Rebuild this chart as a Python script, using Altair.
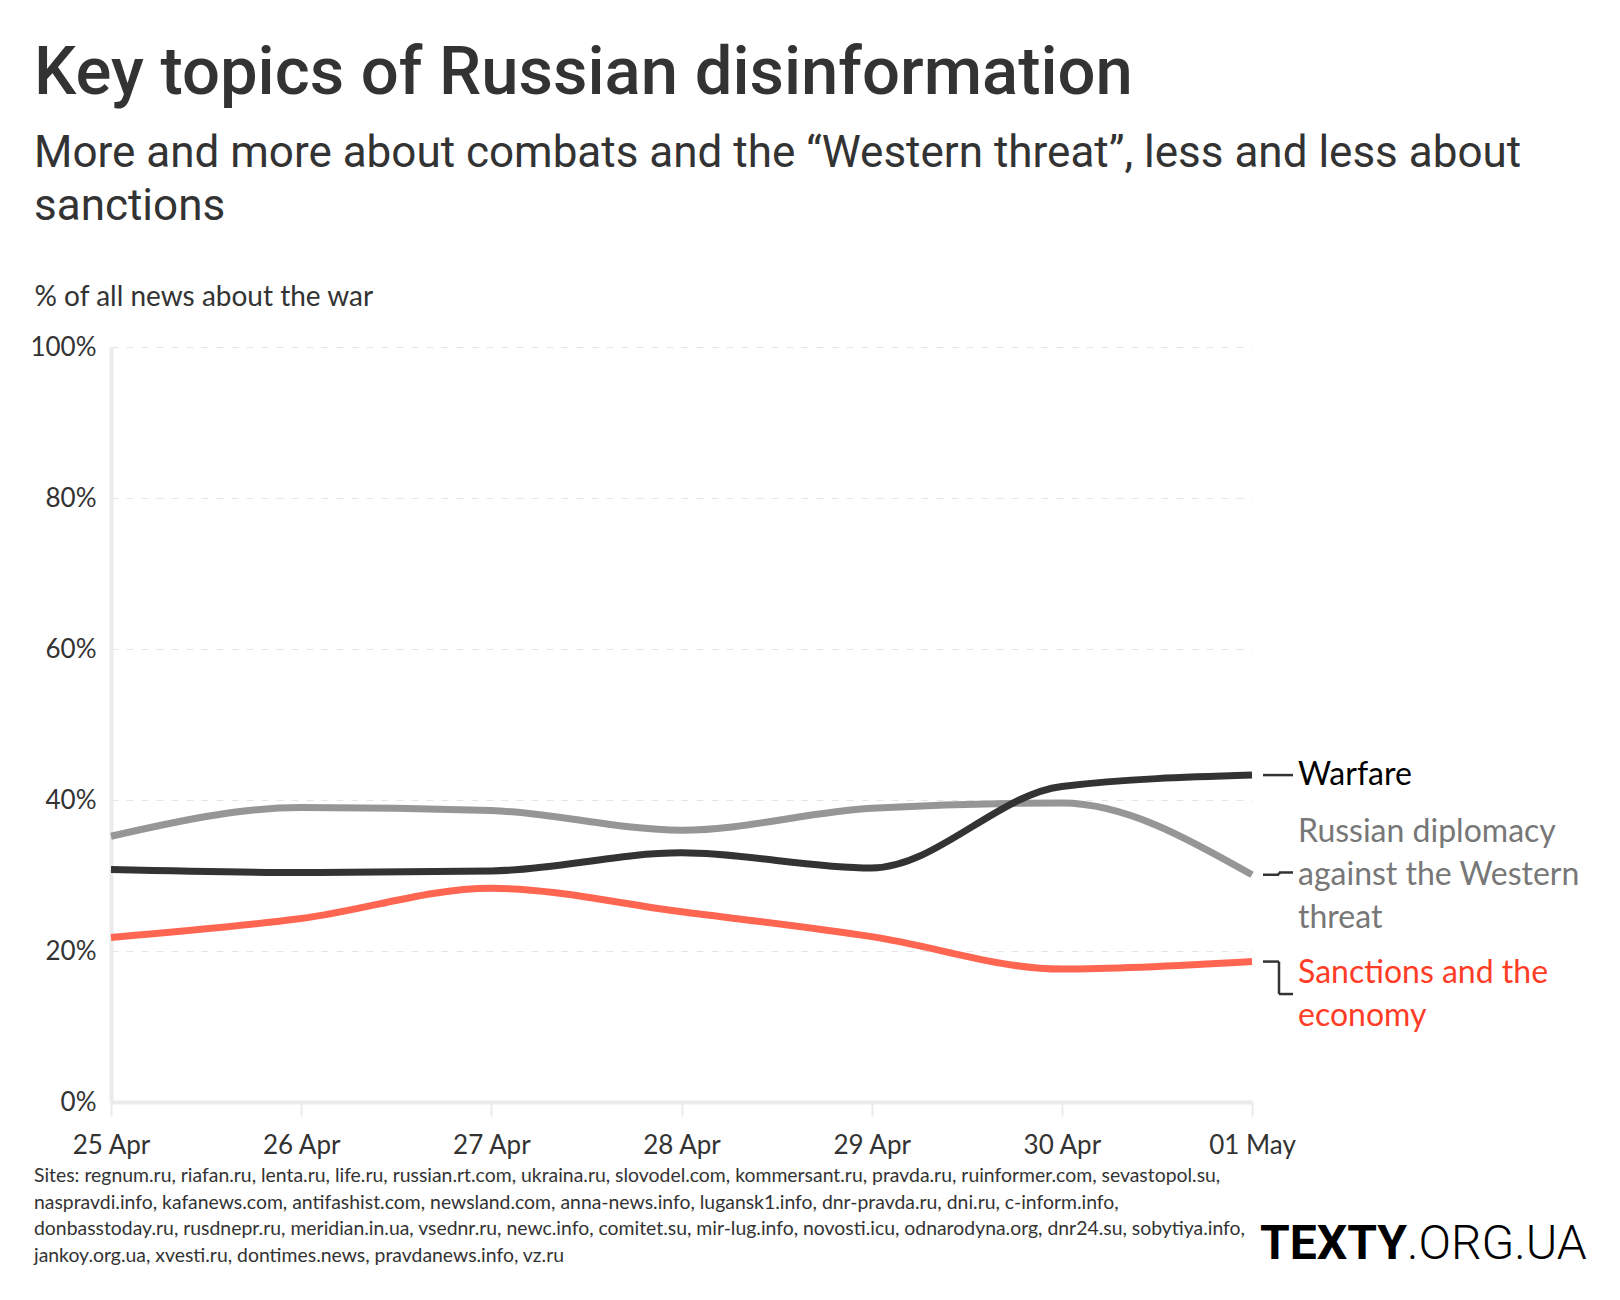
import altair as alt
import pandas as pd

days = ["25 Apr", "26 Apr", "27 Apr", "28 Apr", "29 Apr", "30 Apr", "01 May"]
series_names = ["Russian diplomacy against the Western threat", "Warfare", "Sanctions and the economy"]
warfare = [30.8, 30.4, 30.6, 33.0, 31.0, 41.8, 43.3]
diplomacy = [35.2, 39.0, 38.6, 36.0, 38.9, 39.6, 30.1]
sanctions = [21.8, 24.3, 28.3, 25.2, 21.9, 17.6, 18.6]
label_texts = ["Russian diplomacy\nagainst the Western\nthreat", "Warfare", "Sanctions and the\neconomy"]
label_first_line = [35.8, 43.3, 17.1]   # value level of each label's first line
label_anchor = [30.4, 43.3, 14.3]       # value level where the connector meets the label
y_ticks = [0, 20, 40, 60, 80, 100]
footnote_lines = [
    "Sites: regnum.ru, riafan.ru, lenta.ru, life.ru, russian.rt.com, ukraina.ru, slovodel.com, kommersant.ru, pravda.ru, ruinformer.com, sevastopol.su,",
    "naspravdi.info, kafanews.com, antifashist.com, newsland.com, anna-news.info, lugansk1.info, dnr-pravda.ru, dni.ru, c-inform.info,",
    "donbasstoday.ru, rusdnepr.ru, meridian.in.ua, vsednr.ru, newc.info, comitet.su, mir-lug.info, novosti.icu, odnarodyna.org, dnr24.su, sobytiya.info,",
    "jankoy.org.ua, xvesti.ru, dontimes.news, pravdanews.info, vz.ru",
]

line_colors = ["#969696", "#333333", "#ff6652"]
label_colors = ["#777777", "#000000", "#ff3d26"]

W, H = 1141, 755
BODY = "Source Sans Pro, Lato, sans-serif"
HEAD = "Roboto, sans-serif"

rows = []
for name, vals in zip(series_names, [diplomacy, warfare, sanctions]):
    for d, v in zip(days, vals):
        rows.append({"day": d, "series": name, "value": v})
df = pd.DataFrame(rows)

ends = {"Russian diplomacy against the Western threat": diplomacy[-1], "Warfare": warfare[-1],
        "Sanctions and the economy": sanctions[-1]}
lab = pd.DataFrame({"series": series_names, "label": label_texts, "label_y": label_first_line,
                    "anchor": label_anchor, "end": [ends[s] for s in series_names]})

x_enc = alt.X("day:O", sort=days, title=None,
              scale=alt.Scale(type="point", padding=0),
              axis=alt.Axis(labelAngle=0, labelFont=BODY, labelFontSize=26, labelColor="#333333",
                            labelPadding=16, domainColor="#ebebeb", domainWidth=4,
                            tickColor="#ebebeb", tickWidth=2, tickSize=14, grid=False))
y_scale = alt.Scale(domain=[0, 100], nice=False)
y_enc = alt.Y("value:Q", scale=y_scale,
              axis=alt.Axis(values=y_ticks, labelExpr="datum.value + '%'", labelFont=BODY,
                            labelFontSize=26, labelColor="#333333", labelPadding=15,
                            ticks=False, domainColor="#ebebeb", domainWidth=4,
                            grid=True, gridColor="#e6e6e6", gridDash=[7, 8], gridWidth=1,
                            title="% of all news about the war", titleAngle=0, titleX=-77, titleY=-50,
                            titleAlign="left", titleBaseline="middle", titleFont=BODY,
                            titleFontSize=28, titleFontWeight="normal", titleColor="#333333"))

lines = alt.Chart(df).mark_line(interpolate="monotone", strokeWidth=7).encode(
    x=x_enc, y=y_enc,
    color=alt.Color("series:N", scale=alt.Scale(domain=series_names, range=line_colors), legend=None),
    detail="series:N",
)

lab_base = alt.Chart(lab)
seg1 = lab_base.mark_rule(color="#333333", strokeWidth=2.5).encode(
    x=alt.value(W + 11), x2=alt.value(W + 27), y=alt.Y("end:Q", scale=y_scale))
seg2 = lab_base.mark_rule(color="#333333", strokeWidth=2.5).encode(
    x=alt.value(W + 27), y=alt.Y("end:Q", scale=y_scale), y2="anchor:Q")
seg3 = lab_base.mark_rule(color="#333333", strokeWidth=2.5).encode(
    x=alt.value(W + 27), x2=alt.value(W + 41), y=alt.Y("anchor:Q", scale=y_scale))
labels = lab_base.mark_text(align="left", baseline="middle", font=BODY, fontSize=32,
                            lineBreak="\n", lineHeight=43).encode(
    x=alt.value(W + 46), y=alt.Y("label_y:Q", scale=y_scale),
    text="label:N",
    color=alt.Color("series:N", scale=alt.Scale(domain=series_names, range=label_colors), legend=None),
)

foot = alt.Chart(pd.DataFrame({"t": ["\n".join(footnote_lines)]})).mark_text(
    align="left", baseline="alphabetic", font=BODY, fontSize=19.4, lineHeight=26.5,
    lineBreak="\n", color="#333333").encode(x=alt.value(-77), y=alt.value(835), text="t:N")
logo1 = alt.Chart(pd.DataFrame({"t": ["TEXTY"]})).mark_text(
    align="right", baseline="alphabetic", font=HEAD, fontSize=48, fontWeight="bold",
    color="#000000").encode(x=alt.value(1296), y=alt.value(912), text="t:N")
logo2 = alt.Chart(pd.DataFrame({"t": [".ORG.UA"]})).mark_text(
    align="left", baseline="alphabetic", font=HEAD, fontSize=48, fontWeight=300,
    color="#000000").encode(x=alt.value(1296), y=alt.value(912), text="t:N")

chart = alt.layer(lines, seg1, seg2, seg3, labels, foot, logo1, logo2).resolve_scale(
    color="independent"
).properties(
    width=W, height=H,
    autosize="none",
    background="white",
    padding={"left": 103, "top": 339, "right": 350, "bottom": 180},
    title=alt.Title(
        text="Key topics of Russian disinformation",
        subtitle=["More and more about combats and the “Western threat”, less and less about", "sanctions"],
        anchor="start", frame="group", dx=-77, offset=53,
        font=HEAD, fontSize=67, fontWeight=500, color="#333333",
        subtitleFont=HEAD, subtitleFontSize=44, subtitleColor="#333333",
        subtitleLineHeight=53, subtitlePadding=24,
    ),
).configure_view(strokeWidth=0, stroke="transparent")

chart.save("out.html", embed_options={"renderer": "svg", "actions": False})
